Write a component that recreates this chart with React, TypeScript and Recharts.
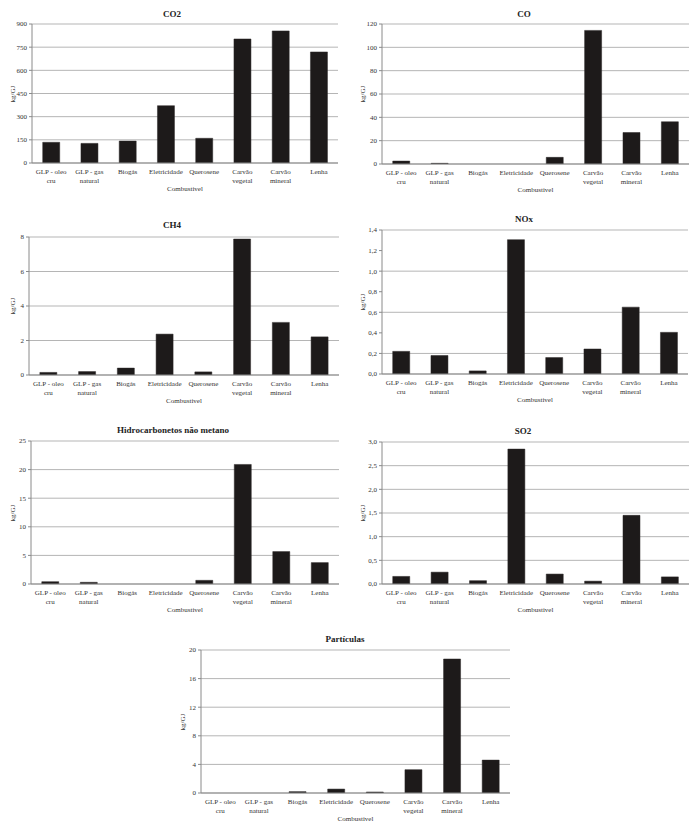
import React from "react";
import { BarChart, Bar, XAxis, YAxis, CartesianGrid } from "recharts";

const CATEGORIES = [
  "GLP - oleo\ncru",
  "GLP - gas\nnatural",
  "Biogás",
  "Eletricidade",
  "Querosene",
  "Carvão\nvegetal",
  "Carvão\nmineral",
  "Lenha",
];

const CO2_VALUES = [134, 127, 142, 371, 160, 803, 855, 719];
const CO_VALUES = [2.5, 0.6, 0, 0, 5.7, 114.5, 27, 36.2];
const CH4_VALUES = [0.15, 0.2, 0.4, 2.37, 0.18, 7.88, 3.05, 2.21];
const NOX_VALUES = [0.22, 0.18, 0.03, 1.306, 0.16, 0.243, 0.65, 0.405];
const HC_VALUES = [0.4, 0.3, 0, 0, 0.64, 20.9, 5.67, 3.74];
const SO2_VALUES = [0.16, 0.25, 0.07, 2.85, 0.21, 0.06, 1.45, 0.15];
const PART_VALUES = [0, 0, 0.19, 0.55, 0.14, 3.26, 18.74, 4.6];

const CO2_TICKS = [0, 150, 300, 450, 600, 750, 900];
const CO_TICKS = [0, 20, 40, 60, 80, 100, 120];
const CH4_TICKS = [0, 2, 4, 6, 8];
const NOX_TICKS = [0, 0.2, 0.4, 0.6, 0.8, 1.0, 1.2, 1.4];
const HC_TICKS = [0, 5, 10, 15, 20, 25];
const SO2_TICKS = [0, 0.5, 1.0, 1.5, 2.0, 2.5, 3.0];
const PART_TICKS = [0, 4, 8, 12, 16, 20];

const FONT = "'Liberation Serif', 'Times New Roman', serif";
const TEXT = "#333";

interface PanelConfig {
  title: string;
  values: number[];
  ticks: number[];
  decimals: number;
  left: number;
  top: number;
  width: number;
  height: number;
  mTop: number;
  mRight: number;
  mBottom: number;
  yWidth: number;
  titleX: number;
  titleY: number;
}

const PANELS: PanelConfig[] = [
  { title: "CO2", values: CO2_VALUES, ticks: CO2_TICKS, decimals: 0, left: 0, top: 0, width: 350, height: 200, mTop: 24, mRight: 12, mBottom: 37, yWidth: 32, titleX: 172, titleY: 14 },
  { title: "CO", values: CO_VALUES, ticks: CO_TICKS, decimals: 0, left: 350, top: 0, width: 349, height: 200, mTop: 24, mRight: 10, mBottom: 36, yWidth: 32, titleX: 524, titleY: 14 },
  { title: "CH4", values: CH4_VALUES, ticks: CH4_TICKS, decimals: 0, left: 0, top: 210, width: 350, height: 200, mTop: 27, mRight: 11, mBottom: 35, yWidth: 29, titleX: 172, titleY: 225 },
  { title: "NOx", values: NOX_VALUES, ticks: NOX_TICKS, decimals: 1, left: 350, top: 210, width: 349, height: 200, mTop: 20, mRight: 11, mBottom: 36, yWidth: 32, titleX: 524, titleY: 219 },
  { title: "Hidrocarbonetos não metano", values: HC_VALUES, ticks: HC_TICKS, decimals: 0, left: 0, top: 420, width: 350, height: 200, mTop: 21, mRight: 11, mBottom: 36, yWidth: 31, titleX: 173, titleY: 430 },
  { title: "SO2", values: SO2_VALUES, ticks: SO2_TICKS, decimals: 1, left: 350, top: 420, width: 349, height: 200, mTop: 22, mRight: 10, mBottom: 36, yWidth: 32, titleX: 523, titleY: 431 },
  { title: "Partículas", values: PART_VALUES, ticks: PART_TICKS, decimals: 0, left: 170, top: 630, width: 360, height: 197, mTop: 20, mRight: 20, mBottom: 34, yWidth: 31, titleX: 345, titleY: 639 },
];

function CategoryTick(props: any) {
  const { x, y, payload } = props;
  const lines = String(payload.value).split("\n");
  return (
    <text x={x} y={y} textAnchor="middle" fontSize={7} fontFamily={FONT} fill={TEXT}>
      {lines.map((line, i) => (
        <tspan key={i} x={x} dy={i === 0 ? 11 : 9}>
          {line}
        </tspan>
      ))}
    </text>
  );
}

function Panel({ cfg }: { cfg: PanelConfig }) {
  const data = CATEGORIES.map((name, i) => ({ name, value: cfg.values[i] }));
  const max = cfg.ticks[cfg.ticks.length - 1];
  const plotTop = cfg.top + cfg.mTop;
  const plotBottom = cfg.top + cfg.height - cfg.mBottom;
  const plotLeft = cfg.left + cfg.yWidth;
  const plotRight = cfg.left + cfg.width - cfg.mRight;
  const fmt = (v: number) => v.toFixed(cfg.decimals).replace(".", ",");

  return (
    <>
      <div
        style={{
          position: "absolute",
          left: cfg.titleX - 100,
          top: cfg.titleY - 6,
          width: 200,
          textAlign: "center",
          fontFamily: FONT,
          fontWeight: "bold",
          fontSize: 9,
          lineHeight: "12px",
          color: "#222",
        }}
      >
        {cfg.title}
      </div>
      <div style={{ position: "absolute", left: cfg.left, top: cfg.top }}>
        <BarChart
          width={cfg.width}
          height={cfg.height}
          data={data}
          margin={{ top: cfg.mTop, right: cfg.mRight, left: 0, bottom: 0 }}
          barCategoryGap="28%"
        >
          <CartesianGrid vertical={false} stroke="#b5b5b5" strokeWidth={1} />
          <XAxis
            dataKey="name"
            interval={0}
            height={cfg.mBottom}
            tick={<CategoryTick />}
            tickLine={false}
            tickSize={0}
            tickMargin={0}
            axisLine={{ stroke: "#8a8a8a" }}
          />
          <YAxis
            width={cfg.yWidth}
            domain={[0, max]}
            ticks={cfg.ticks}
            allowDataOverflow
            tickFormatter={fmt}
            tick={{ fontSize: 7, fontFamily: FONT, fill: TEXT }}
            tickSize={3}
            tickMargin={2}
            tickLine={{ stroke: "#8a8a8a" }}
            axisLine={{ stroke: "#8a8a8a" }}
          />
          <Bar dataKey="value" fill="#1d1a1a" stroke="#2a2626" strokeWidth={0.5} isAnimationActive={false} />
        </BarChart>
      </div>
      <div
        style={{
          position: "absolute",
          left: cfg.left + 13 - 20,
          top: (plotTop + plotBottom) / 2 - 5,
          width: 40,
          textAlign: "center",
          transform: "rotate(-90deg)",
          fontFamily: FONT,
          fontSize: 7,
          lineHeight: "10px",
          color: TEXT,
        }}
      >
        kg/GJ
      </div>
      <div
        style={{
          position: "absolute",
          left: (plotLeft + plotRight) / 2 - 50,
          top: plotBottom + 26 - 5,
          width: 100,
          textAlign: "center",
          fontFamily: FONT,
          fontSize: 7,
          lineHeight: "10px",
          color: TEXT,
        }}
      >
        Combustivel
      </div>
    </>
  );
}

export default function App() {
  return (
    <div style={{ position: "absolute", left: 0, top: 0, width: 699, height: 827, background: "#fff" }}>
      {PANELS.map((cfg) => (
        <Panel key={cfg.title} cfg={cfg} />
      ))}
    </div>
  );
}
